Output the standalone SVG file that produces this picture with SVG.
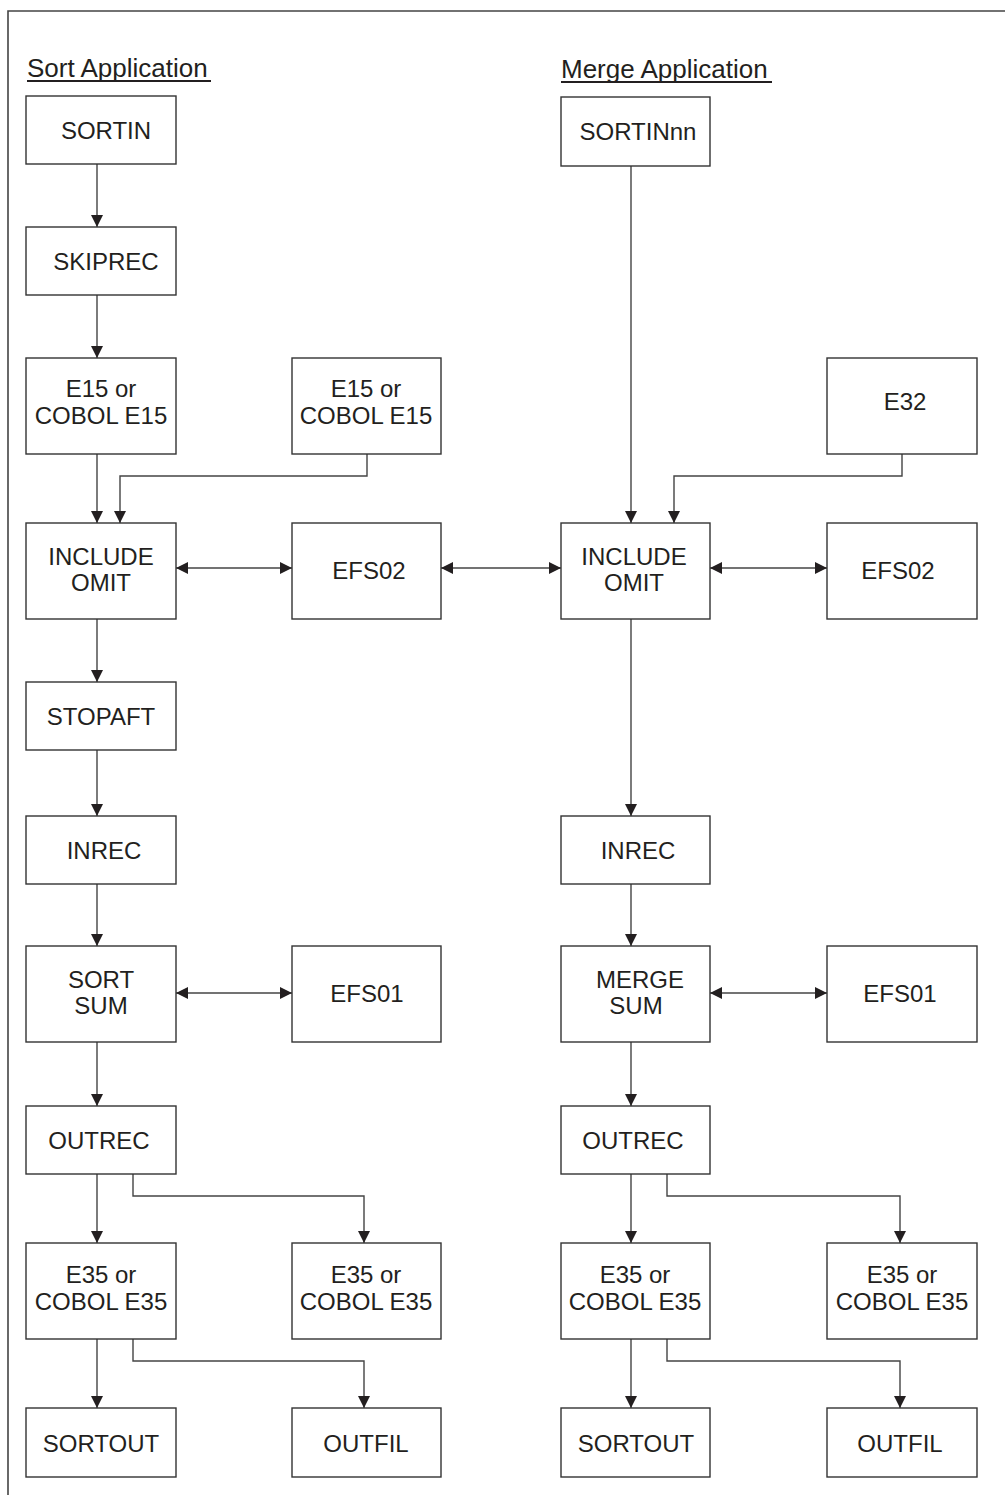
<svg xmlns="http://www.w3.org/2000/svg" width="1005" height="1495" viewBox="0 0 1005 1495">
<style>
.box{fill:#fff;stroke:#333;stroke-width:1.4}
.t{font-family:"Liberation Sans",Arial,sans-serif;font-size:24px;fill:#231f20;text-anchor:middle}
.ttl{font-family:"Liberation Sans",Arial,sans-serif;font-size:26px;fill:#231f20}
.c{fill:none;stroke:#444;stroke-width:1.4}
.frame{fill:none;stroke:#444;stroke-width:1.6}
</style>
<defs>
<marker id="ah" markerUnits="userSpaceOnUse" markerWidth="12" markerHeight="12" refX="12" refY="6" orient="auto-start-reverse" viewBox="0 0 12 12">
<path d="M0,0 L12,6 L0,12 z" fill="#231f20"/>
</marker>
</defs>
<rect width="1005" height="1495" fill="#fff"/>
<path class="frame" d="M8,1495 V11 H1005"/>
<g id="titles">
<text class="ttl" x="27" y="77">Sort Application</text>
<line x1="27" y1="81" x2="211" y2="81" stroke="#231f20" stroke-width="2"/>
<text class="ttl" x="561" y="78">Merge Application</text>
<line x1="561" y1="82" x2="772" y2="82" stroke="#231f20" stroke-width="2"/>
</g>
<g id="connectors">
<line class="c" x1="97" y1="164" x2="97" y2="227" marker-end="url(#ah)"/>
<line class="c" x1="97" y1="295" x2="97" y2="358" marker-end="url(#ah)"/>
<line class="c" x1="97" y1="454" x2="97" y2="523" marker-end="url(#ah)"/>
<path class="c" d="M367,454 V476 H120 V523" marker-end="url(#ah)"/>
<line class="c" x1="176" y1="568" x2="292" y2="568" marker-start="url(#ah)" marker-end="url(#ah)"/>
<line class="c" x1="441" y1="568" x2="561" y2="568" marker-start="url(#ah)" marker-end="url(#ah)"/>
<line class="c" x1="97" y1="619" x2="97" y2="682" marker-end="url(#ah)"/>
<line class="c" x1="97" y1="750" x2="97" y2="816" marker-end="url(#ah)"/>
<line class="c" x1="97" y1="884" x2="97" y2="946" marker-end="url(#ah)"/>
<line class="c" x1="176" y1="993" x2="292" y2="993" marker-start="url(#ah)" marker-end="url(#ah)"/>
<line class="c" x1="97" y1="1042" x2="97" y2="1106" marker-end="url(#ah)"/>
<line class="c" x1="97" y1="1174" x2="97" y2="1243" marker-end="url(#ah)"/>
<path class="c" d="M133,1174 V1196 H364 V1243" marker-end="url(#ah)"/>
<line class="c" x1="97" y1="1339" x2="97" y2="1408" marker-end="url(#ah)"/>
<path class="c" d="M133,1339 V1361 H364 V1408" marker-end="url(#ah)"/>
<line class="c" x1="631" y1="166" x2="631" y2="523" marker-end="url(#ah)"/>
<path class="c" d="M902,454 V476 H674 V523" marker-end="url(#ah)"/>
<line class="c" x1="710" y1="568" x2="827" y2="568" marker-start="url(#ah)" marker-end="url(#ah)"/>
<line class="c" x1="631" y1="619" x2="631" y2="816" marker-end="url(#ah)"/>
<line class="c" x1="631" y1="884" x2="631" y2="946" marker-end="url(#ah)"/>
<line class="c" x1="710" y1="993" x2="827" y2="993" marker-start="url(#ah)" marker-end="url(#ah)"/>
<line class="c" x1="631" y1="1042" x2="631" y2="1106" marker-end="url(#ah)"/>
<line class="c" x1="631" y1="1174" x2="631" y2="1243" marker-end="url(#ah)"/>
<path class="c" d="M667,1174 V1196 H900 V1243" marker-end="url(#ah)"/>
<line class="c" x1="631" y1="1339" x2="631" y2="1408" marker-end="url(#ah)"/>
<path class="c" d="M667,1339 V1361 H900 V1408" marker-end="url(#ah)"/>
</g>
<g id="sortin"><rect class="box" x="26" y="96" width="150" height="68"/><text class="t" x="106" y="139">SORTIN</text></g>
<g id="skiprec"><rect class="box" x="26" y="227" width="150" height="68"/><text class="t" x="106" y="270">SKIPREC</text></g>
<g id="e15a"><rect class="box" x="26" y="358" width="150" height="96"/><text class="t" x="101" y="397">E15 or</text><text class="t" x="101" y="424">COBOL E15</text></g>
<g id="e15b"><rect class="box" x="292" y="358" width="149" height="96"/><text class="t" x="366" y="397">E15 or</text><text class="t" x="366" y="424">COBOL E15</text></g>
<g id="e32"><rect class="box" x="827" y="358" width="150" height="96"/><text class="t" x="905" y="410">E32</text></g>
<g id="sortin_nn"><rect class="box" x="561" y="97" width="149" height="69"/><text class="t" x="638" y="140">SORTINnn</text></g>
<g id="include_s"><rect class="box" x="26" y="523" width="150" height="96"/><text class="t" x="101" y="565">INCLUDE</text><text class="t" x="101" y="591">OMIT</text></g>
<g id="efs02_s"><rect class="box" x="292" y="523" width="149" height="96"/><text class="t" x="369" y="579">EFS02</text></g>
<g id="include_m"><rect class="box" x="561" y="523" width="149" height="96"/><text class="t" x="634" y="565">INCLUDE</text><text class="t" x="634" y="591">OMIT</text></g>
<g id="efs02_m"><rect class="box" x="827" y="523" width="150" height="96"/><text class="t" x="898" y="579">EFS02</text></g>
<g id="stopaft"><rect class="box" x="26" y="682" width="150" height="68"/><text class="t" x="101" y="725">STOPAFT</text></g>
<g id="inrec_s"><rect class="box" x="26" y="816" width="150" height="68"/><text class="t" x="104" y="859">INREC</text></g>
<g id="inrec_m"><rect class="box" x="561" y="816" width="149" height="68"/><text class="t" x="638" y="859">INREC</text></g>
<g id="sortsum"><rect class="box" x="26" y="946" width="150" height="96"/><text class="t" x="101" y="988">SORT</text><text class="t" x="101" y="1014">SUM</text></g>
<g id="efs01_s"><rect class="box" x="292" y="946" width="149" height="96"/><text class="t" x="367" y="1002">EFS01</text></g>
<g id="mergesum"><rect class="box" x="561" y="946" width="149" height="96"/><text class="t" x="640" y="988">MERGE</text><text class="t" x="636" y="1014">SUM</text></g>
<g id="efs01_m"><rect class="box" x="827" y="946" width="150" height="96"/><text class="t" x="900" y="1002">EFS01</text></g>
<g id="outrec_s"><rect class="box" x="26" y="1106" width="150" height="68"/><text class="t" x="99" y="1149">OUTREC</text></g>
<g id="outrec_m"><rect class="box" x="561" y="1106" width="149" height="68"/><text class="t" x="633" y="1149">OUTREC</text></g>
<g id="e35a"><rect class="box" x="26" y="1243" width="150" height="96"/><text class="t" x="101" y="1283">E35 or</text><text class="t" x="101" y="1310">COBOL E35</text></g>
<g id="e35b"><rect class="box" x="292" y="1243" width="149" height="96"/><text class="t" x="366" y="1283">E35 or</text><text class="t" x="366" y="1310">COBOL E35</text></g>
<g id="e35c"><rect class="box" x="561" y="1243" width="149" height="96"/><text class="t" x="635" y="1283">E35 or</text><text class="t" x="635" y="1310">COBOL E35</text></g>
<g id="e35d"><rect class="box" x="827" y="1243" width="150" height="96"/><text class="t" x="902" y="1283">E35 or</text><text class="t" x="902" y="1310">COBOL E35</text></g>
<g id="sortout_s"><rect class="box" x="26" y="1408" width="150" height="69"/><text class="t" x="101" y="1452">SORTOUT</text></g>
<g id="outfil_s"><rect class="box" x="292" y="1408" width="149" height="69"/><text class="t" x="366" y="1452">OUTFIL</text></g>
<g id="sortout_m"><rect class="box" x="561" y="1408" width="149" height="69"/><text class="t" x="636" y="1452">SORTOUT</text></g>
<g id="outfil_m"><rect class="box" x="827" y="1408" width="150" height="69"/><text class="t" x="900" y="1452">OUTFIL</text></g>
</svg>
